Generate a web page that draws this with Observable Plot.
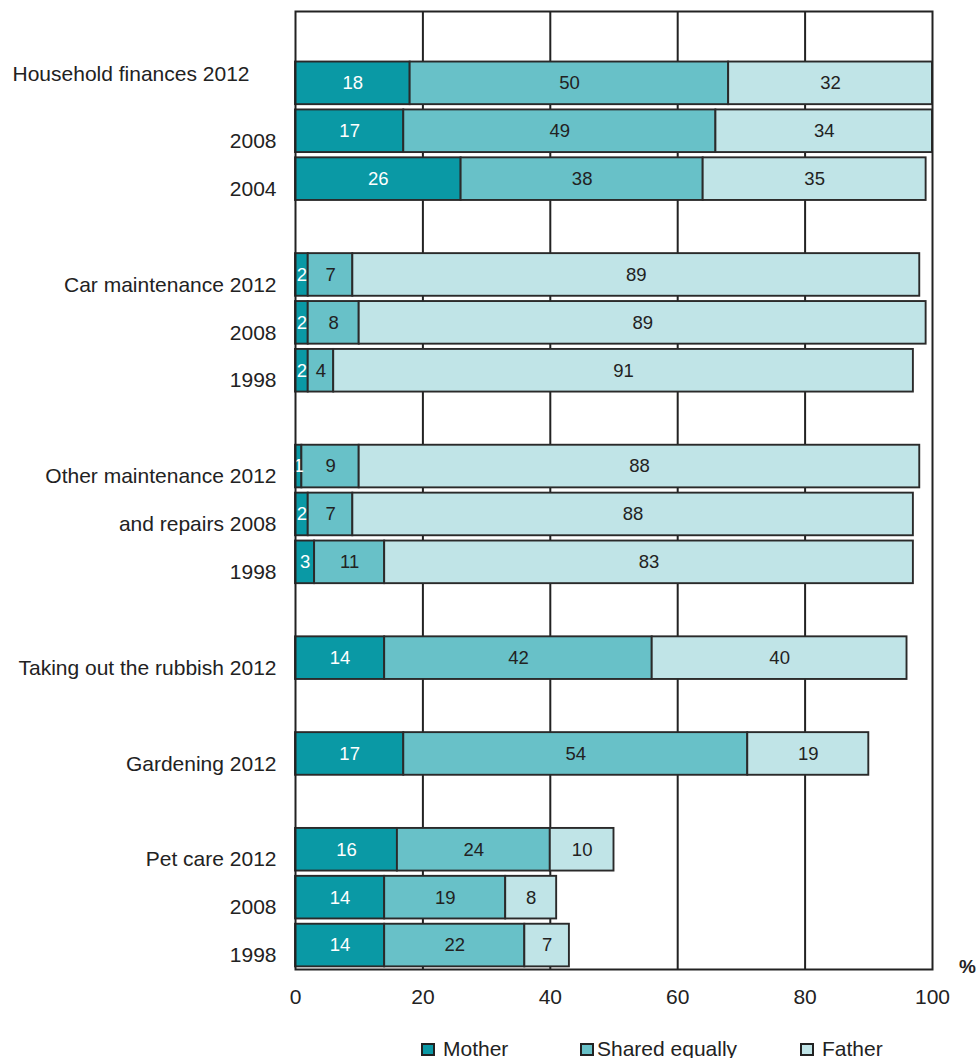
<!DOCTYPE html>
<html>
<head>
<meta charset="utf-8">
<script src="https://cdn.jsdelivr.net/npm/d3@7"></script>
<script src="https://cdn.jsdelivr.net/npm/@observablehq/plot@0.6"></script>
<style>
  html, body { margin: 0; padding: 0; background: #fff; }
  body { font-family: "Liberation Sans", Arial, Helvetica, sans-serif; color: #222; }
  #chart { width: 977px; height: 1020px; }
  #legend { position: relative; height: 38px; width: 977px; font-size: 21px; line-height: 24px; }
  #legend .swatch { position: absolute; top: 23px; width: 10px; height: 9px; border: 2px solid #222; }
  #legend .label { position: absolute; top: 17px; white-space: nowrap; }
</style>
</head>
<body>
<div id="chart"></div>
<div id="legend"></div>
<script>
// Who does the household task (%), by task and survey year
const categories = [
  "Household finances 2012", "2008", "2004",
  "Car maintenance 2012", "2008", "1998",
  "Other maintenance 2012", "and repairs 2008", "1998",
  "Taking out the rubbish 2012",
  "Gardening 2012",
  "Pet care 2012", "2008", "1998"
];
// number of rows in each task group (an empty row separates the groups)
const groupSizes = [3, 3, 3, 1, 1, 3];
const mother = [18, 17, 26, 2, 2, 2, 1, 2, 3, 14, 17, 16, 14, 14];
const shared = [50, 49, 38, 7, 8, 4, 9, 7, 11, 42, 54, 24, 19, 22];
const father = [32, 34, 35, 89, 89, 91, 88, 88, 83, 40, 19, 10, 8, 7];
const series = ["Mother", "Shared equally", "Father"];
const colors = ["#0a99a5", "#68c1c8", "#c0e4e7"];
const xTicks = [0, 20, 40, 60, 80, 100];
const gridTicks = [20, 40, 60, 80];

// Slot index for each category row, leaving one blank slot before every group
const slotOf = [];
let slot = 0;
for (const n of groupSizes) {
  slot += 1;
  for (let k = 0; k < n; k++) slotOf.push(slot++);
}
const slotCount = slot;
const slotLabel = new Map(slotOf.map((s, i) => [s, categories[i]]));

const rows = [];
categories.forEach((c, i) => {
  [mother[i], shared[i], father[i]].forEach((v, j) => {
    rows.push({slot: slotOf[i], who: series[j], value: v});
  });
});

const font = '"Liberation Sans", Arial, Helvetica, sans-serif';

const chart = Plot.plot({
  width: 977,
  height: 1020,
  marginLeft: 295,
  marginRight: 45,
  marginTop: 11,
  marginBottom: 51,
  style: {fontFamily: font, fontSize: "21px", color: "#222", background: "#fff"},
  x: {domain: [0, 100], label: null},
  y: {domain: d3.range(slotCount), paddingInner: 0.11, paddingOuter: 0.055, round: false, label: null},
  color: {domain: series, range: colors},
  marks: [
    Plot.ruleX(gridTicks, {stroke: "#222", strokeWidth: 2}),
    Plot.barX(rows, Plot.stackX({
      x: "value", y: "slot", fill: "who", order: series,
      stroke: "#2a2a2a", strokeWidth: 1.9
    })),
    Plot.text(rows, Plot.stackX({
      x: "value", y: "slot", text: "value", order: series,
      fill: d => d.who === "Mother" ? "#fff" : "#222",
      fontSize: 18.5
    })),
    Plot.frame({stroke: "#222", strokeWidth: 2}),
    Plot.axisX(xTicks, {
      tickSize: 0, tickPadding: 20, fontSize: 21, label: null, fill: "#222"
    }),
    Plot.axisY(slotOf.slice(1), {
      tickSize: 0, tickPadding: 19, dy: 10, fontSize: 21, label: null, fill: "#222",
      tickFormat: s => slotLabel.get(s)
    }),
    // first category label sits flush left, above its bar
    Plot.text([slotOf[0]], {
      y: d => d, text: d => slotLabel.get(d), frameAnchor: "left",
      dx: -283, dy: -9.5, textAnchor: "start", fontSize: 21, fill: "#222"
    }),
    Plot.text(["%"], {
      x: 100, frameAnchor: "bottom", text: d => d, dx: 35, dy: 3,
      fontWeight: "bold", fontSize: 19, fill: "#222"
    })
  ]
});
document.getElementById("chart").appendChild(chart);

// Legend below the plot
const swatchLeft = [421, 580, 800];
const labelLeft = [443, 597, 822];
const legend = document.getElementById("legend");
series.forEach((s, i) => {
  const sw = document.createElement("span");
  sw.className = "swatch";
  sw.style.left = swatchLeft[i] + "px";
  sw.style.background = colors[i];
  const label = document.createElement("span");
  label.className = "label";
  label.style.left = labelLeft[i] + "px";
  label.textContent = s;
  legend.appendChild(sw);
  legend.appendChild(label);
});
</script>
</body>
</html>
